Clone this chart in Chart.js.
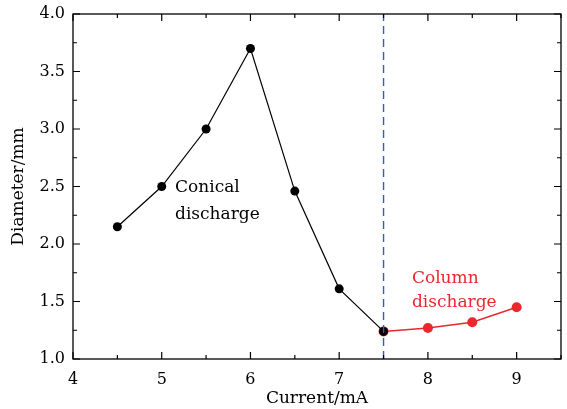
<!DOCTYPE html>
<html>
<head>
<meta charset="utf-8">
<script src="https://cdn.jsdelivr.net/npm/chart.js@4"></script>
<style>
  body { margin: 0; background: #fff; }
  #wrap { width: 567px; height: 409px; }
</style>
</head>
<body>
<div id="wrap"><canvas id="chart"></canvas></div>
<script>
// conical discharge (black)
const conicalCurrent = [4.5, 5, 5.5, 6, 6.5, 7, 7.5];
const conicalDiameter = [2.15, 2.5, 3.0, 3.7, 2.46, 1.61, 1.24];
// column discharge (red)
const columnCurrent = [7.5, 8, 8.5, 9];
const columnDiameter = [1.24, 1.27, 1.32, 1.45];
// boundary between the two regimes
const boundaryCurrent = 7.5;
const yRange = [1.0, 4.0];
const xRange = [4, 9.5];

const FONT = "'DejaVu Serif', serif";
const RED = "#e8282d";

function toPoints(xs, ys) {
  return xs.map((x, i) => ({ x: x, y: ys[i] }));
}

// inward ticks on all four sides + frame + text labels
const framePlugin = {
  id: "frame",
  afterDraw(chart) {
    const ctx = chart.ctx;
    const a = chart.chartArea;
    const xs = chart.scales.x;
    const ys = chart.scales.y;
    ctx.save();
    ctx.strokeStyle = "#000";
    ctx.lineWidth = 1.3;
    ctx.strokeRect(a.left, a.top, a.right - a.left, a.bottom - a.top);

    ctx.lineWidth = 1.2;
    for (let v = xRange[0]; v <= xRange[1] + 1e-9; v += 0.5) {
      const px = xs.getPixelForValue(v);
      const len = Number.isInteger(v) ? 7 : 4;
      ctx.beginPath();
      ctx.moveTo(px, a.bottom); ctx.lineTo(px, a.bottom - len);
      ctx.moveTo(px, a.top); ctx.lineTo(px, a.top + len);
      ctx.stroke();
    }
    for (let v = yRange[0]; v <= yRange[1] + 1e-9; v += 0.25) {
      const py = ys.getPixelForValue(v);
      const len = Math.abs(v * 2 - Math.round(v * 2)) < 1e-6 ? 7 : 4;
      ctx.beginPath();
      ctx.moveTo(a.left, py); ctx.lineTo(a.left + len, py);
      ctx.moveTo(a.right, py); ctx.lineTo(a.right - len, py);
      ctx.stroke();
    }

    // region labels
    ctx.font = "17px " + FONT;
    ctx.textAlign = "left";
    ctx.textBaseline = "middle";
    ctx.fillStyle = "#000";
    ctx.fillText("Conical", xs.getPixelForValue(5.15), ys.getPixelForValue(2.49));
    ctx.fillText("discharge", xs.getPixelForValue(5.15), ys.getPixelForValue(2.26));
    ctx.fillStyle = RED;
    ctx.fillText("Column", xs.getPixelForValue(7.82), ys.getPixelForValue(1.70));
    ctx.fillText("discharge", xs.getPixelForValue(7.82), ys.getPixelForValue(1.49));
    ctx.restore();
  }
};

new Chart(document.getElementById("chart"), {
  type: "scatter",
  data: {
    datasets: [
      {
        data: [{ x: boundaryCurrent, y: yRange[0] }, { x: boundaryCurrent, y: yRange[1] }],
        showLine: true,
        borderColor: "#2c5fc0",
        borderWidth: 1.4,
        borderDash: [8, 5],
        pointRadius: 0
      },
      {
        data: toPoints(conicalCurrent, conicalDiameter),
        showLine: true,
        borderColor: "#000",
        backgroundColor: "#000",
        borderWidth: 1.2,
        pointRadius: 4.5,
        pointBorderWidth: 0
      },
      {
        data: toPoints(columnCurrent, columnDiameter),
        showLine: true,
        borderColor: RED,
        backgroundColor: RED,
        borderWidth: 1.5,
        pointRadius: 5,
        pointBorderWidth: 0
      }
    ]
  },
  options: {
    responsive: true,
    maintainAspectRatio: false,
    animation: false,
    layout: { padding: { top: 14, right: 6, left: 0, bottom: 0 } },
    plugins: {
      legend: { display: false },
      tooltip: { enabled: false }
    },
    scales: {
      x: {
        type: "linear",
        min: xRange[0],
        max: xRange[1],
        grid: { display: false, drawTicks: false },
        border: { display: false },
        ticks: {
          stepSize: 1,
          padding: 11,
          color: "#000",
          font: { family: FONT, size: 16 },
          callback: (v) => (Number.isInteger(v) ? v : "")
        },
        title: {
          display: true,
          text: "Current/mA",
          color: "#000",
          font: { family: FONT, size: 17 },
          padding: { top: 2, bottom: 0 }
        },
        afterFit: (s) => { s.height = 50; s.paddingLeft = 0; s.paddingRight = 0; }
      },
      y: {
        min: yRange[0],
        max: yRange[1],
        grid: { display: false, drawTicks: false },
        border: { display: false },
        ticks: {
          stepSize: 0.5,
          padding: 8,
          color: "#000",
          font: { family: FONT, size: 16 },
          callback: (v) => v.toFixed(1)
        },
        title: {
          display: true,
          text: "Diameter/mm",
          color: "#000",
          font: { family: FONT, size: 17 },
          padding: { top: 8, bottom: 0 }
        },
        afterFit: (s) => { s.width = 73; s.paddingTop = 0; s.paddingBottom = 0; }
      }
    }
  },
  plugins: [framePlugin]
});
</script>
</body>
</html>
